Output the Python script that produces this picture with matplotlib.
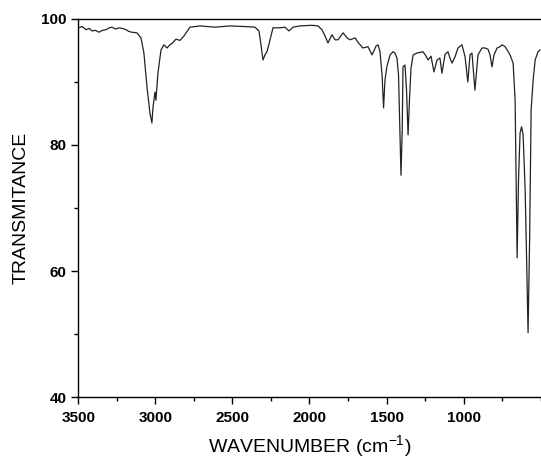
import matplotlib
matplotlib.use("Agg")
import matplotlib.pyplot as plt
from matplotlib.ticker import MultipleLocator

plt.rcParams['font.family'] = ['Liberation Sans', 'DejaVu Sans']
plt.rcParams['mathtext.fontset'] = 'custom'
plt.rcParams['mathtext.rm'] = 'Liberation Sans'

# IR spectrum
wavenumber = [3500, 3475, 3451, 3430, 3412, 3390, 3367, 3345, 3321, 3300, 3282, 3260,
              3237, 3215, 3192, 3170, 3153, 3120, 3094, 3075,
              3055, 3036, 3023, 3016, 3003, 2997, 2984, 2964, 2945, 2925, 2906, 2893,
              2867, 2841, 2815, 2776, 2711, 2614, 2516, 2419, 2354, 2328, 2315, 2302,
              2289, 2276, 2256, 2237, 2191, 2159, 2133, 2107, 2062, 1984, 1945, 1919,
              1899, 1880, 1854, 1834, 1815, 1782, 1756, 1737, 1704, 1685, 1653, 1620,
              1594, 1568, 1555, 1542, 1529, 1519, 1510, 1497, 1477, 1458, 1445, 1432,
              1422, 1412, 1406, 1398, 1393, 1380, 1370, 1360, 1351, 1341, 1327, 1302,
              1263, 1243, 1230, 1211, 1192, 1172, 1153, 1140, 1120, 1101, 1088, 1075,
              1055, 1036, 1010, 990, 972, 958, 945, 926, 906, 880, 861, 841,
              828, 815, 802, 782, 763, 750, 730, 717, 698, 678, 665, 652,
              643, 633, 623, 613, 600, 590, 581, 571, 561, 548, 535, 516, 503]
transmitance = [98.6, 98.8, 98.3, 98.5, 98.1, 98.2, 97.9, 98.2, 98.3, 98.6, 98.7, 98.4,
                98.6, 98.5, 98.3, 98.0, 97.9, 97.8, 97.0, 94.6,
                89.2, 85.1, 83.5, 86.0, 88.4, 87.1, 91.4, 95.1, 95.9, 95.4, 95.9, 96.1,
                96.8, 96.6, 97.3, 98.7, 98.9, 98.7, 98.9, 98.8, 98.7, 98.1, 95.9, 93.5,
                94.3, 94.8, 96.7, 98.6, 98.6, 98.7, 98.1, 98.7, 98.9, 99.0, 98.9, 98.3,
                97.3, 96.2, 97.5, 96.7, 96.7, 97.8, 97.0, 96.7, 97.0, 96.3, 95.4, 95.6,
                94.3, 95.7, 95.9, 94.8, 91.1, 85.9, 90.3, 92.5, 94.3, 94.8, 94.6, 93.8,
                91.1, 80.8, 75.2, 82.4, 92.4, 92.7, 88.7, 81.6, 87.1, 92.2, 94.3, 94.6,
                94.8, 94.1, 93.5, 94.1, 91.6, 93.5, 93.8, 91.4, 94.4, 94.8, 93.8, 93.0,
                94.0, 95.4, 95.9, 94.0, 90.0, 94.3, 94.6, 88.7, 94.3, 95.4, 95.4, 95.2,
                94.3, 92.4, 94.3, 95.4, 95.6, 95.9, 95.6, 95.1, 94.3, 93.0, 87.1, 62.1,
                74.4, 81.9, 82.9, 81.6, 72.9, 61.4, 50.2, 64.9, 85.6, 90.3, 93.5, 94.8, 95.1]

xticks = [3500, 3000, 2500, 2000, 1500, 1000]
yticks = [40, 60, 80, 100]

fig = plt.figure(figsize=(5.41, 4.61), dpi=100)
ax = fig.add_axes([0.145, 0.1388, 0.855, 0.82])
ax.plot(wavenumber, transmitance, color='#222222', lw=0.9)

ax.set_xlim(3500, 497)
ax.set_ylim(40, 100)
ax.set_xticks(xticks)
ax.set_yticks(yticks)
ax.xaxis.set_minor_locator(MultipleLocator(250))
ax.yaxis.set_minor_locator(MultipleLocator(10))
ax.tick_params(which='major', direction='out', length=5, width=1, labelsize=11)
ax.tick_params(which='minor', direction='out', length=3, width=1)
ax.tick_params(axis='x', pad=5)
for lab in ax.get_xticklabels() + ax.get_yticklabels():
    lab.set_fontweight('bold')
ax.spines['right'].set_visible(False)
for s in ['left', 'bottom', 'top']:
    ax.spines[s].set_linewidth(1)

ax.set_xlabel('WAVENUMBER (cm$^{-1}$)', fontsize=14, labelpad=6)
ax.set_ylabel('TRANSMITANCE', fontsize=14, labelpad=8)

fig.savefig('out.png', dpi=100)
